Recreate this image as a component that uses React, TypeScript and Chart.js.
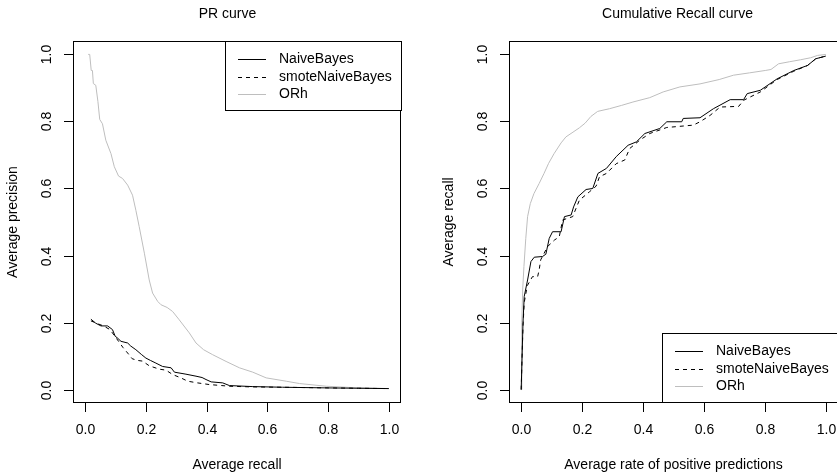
import React, { useEffect, useRef } from "react";
import { Chart, registerables } from "chart.js";

Chart.register(...registerables);

// ---------- data ----------
const TICK_VALUES = [0, 0.2, 0.4, 0.6, 0.8, 1.0];
const TICK_LABELS = ["0.0", "0.2", "0.4", "0.6", "0.8", "1.0"];
const SERIES_NAMES = ["NaiveBayes", "smoteNaiveBayes", "ORh"];

const PR_TITLE = "PR curve";
const PR_X_TITLE = "Average recall";
const PR_Y_TITLE = "Average precision";

const CR_TITLE = "Cumulative Recall curve";
const CR_X_TITLE = "Average rate of positive predictions";
const CR_Y_TITLE = "Average recall";

// PR curve
const PR_NB_RECALL = [0.019, 0.035, 0.052, 0.074, 0.09, 0.099, 0.105, 0.118, 0.14, 0.15, 0.167, 0.185, 0.2, 0.215, 0.233, 0.255, 0.283, 0.294, 0.332, 0.365, 0.385, 0.398, 0.415, 0.453, 0.475, 0.55, 0.65, 0.8, 0.9, 1.0];
const PR_NB_PRECISION = [0.21, 0.198, 0.19, 0.19, 0.179, 0.159, 0.155, 0.144, 0.139, 0.13, 0.119, 0.105, 0.094, 0.087, 0.079, 0.069, 0.065, 0.052, 0.046, 0.04, 0.036, 0.03, 0.023, 0.02, 0.012, 0.009, 0.007, 0.005, 0.004, 0.003];

const PR_SMOTE_RECALL = [0.019, 0.04, 0.06, 0.08, 0.09, 0.11, 0.125, 0.14, 0.155, 0.173, 0.189, 0.211, 0.244, 0.266, 0.288, 0.315, 0.338, 0.37, 0.409, 0.45, 0.475, 0.55, 0.65, 0.8, 0.9, 1.0];
const PR_SMOTE_PRECISION = [0.205, 0.197, 0.19, 0.18, 0.169, 0.144, 0.125, 0.109, 0.092, 0.087, 0.085, 0.071, 0.061, 0.058, 0.045, 0.035, 0.025, 0.02, 0.015, 0.012, 0.01, 0.008, 0.007, 0.005, 0.004, 0.003];

const PR_ORH_RECALL = [0.01, 0.015, 0.02, 0.024, 0.027, 0.035, 0.042, 0.048, 0.057, 0.068, 0.085, 0.096, 0.11, 0.123, 0.14, 0.156, 0.167, 0.178, 0.195, 0.211, 0.222, 0.239, 0.25, 0.27, 0.288, 0.31, 0.343, 0.365, 0.39, 0.42, 0.464, 0.508, 0.552, 0.596, 0.662, 0.706, 0.794, 0.88, 1.0];
const PR_ORH_PRECISION = [1.0, 1.0, 0.952, 0.952, 0.913, 0.908, 0.86, 0.806, 0.793, 0.744, 0.704, 0.665, 0.637, 0.63, 0.61, 0.58, 0.535, 0.486, 0.407, 0.327, 0.288, 0.263, 0.253, 0.245, 0.233, 0.208, 0.169, 0.139, 0.119, 0.104, 0.084, 0.065, 0.052, 0.035, 0.025, 0.018, 0.01, 0.006, 0.003];

// Cumulative recall curve
const CR_NB_RPP = [0, 0.003, 0.006, 0.01, 0.021, 0.032, 0.043, 0.07, 0.081, 0.092, 0.103, 0.131, 0.142, 0.164, 0.172, 0.186, 0.213, 0.235, 0.252, 0.28, 0.312, 0.351, 0.378, 0.406, 0.455, 0.478, 0.527, 0.532, 0.587, 0.631, 0.686, 0.73, 0.742, 0.785, 0.84, 0.895, 0.94, 0.967, 1.0];
const CR_NB_RECALL = [0, 0.1, 0.2, 0.278, 0.327, 0.382, 0.395, 0.397, 0.404, 0.451, 0.471, 0.471, 0.516, 0.521, 0.545, 0.575, 0.597, 0.6, 0.645, 0.66, 0.695, 0.729, 0.739, 0.764, 0.779, 0.799, 0.799, 0.809, 0.811, 0.838, 0.865, 0.865, 0.883, 0.893, 0.927, 0.952, 0.967, 0.987, 0.995];

const CR_SMOTE_RPP = [0, 0.003, 0.006, 0.01, 0.02, 0.037, 0.054, 0.059, 0.064, 0.087, 0.109, 0.125, 0.136, 0.169, 0.191, 0.224, 0.246, 0.257, 0.28, 0.312, 0.34, 0.356, 0.389, 0.422, 0.478, 0.565, 0.587, 0.62, 0.653, 0.714, 0.73, 0.785, 0.84, 0.895, 0.94, 0.967, 1.0];
const CR_SMOTE_RECALL = [0, 0.1, 0.19, 0.26, 0.31, 0.337, 0.337, 0.357, 0.387, 0.427, 0.446, 0.456, 0.506, 0.516, 0.565, 0.59, 0.607, 0.635, 0.645, 0.674, 0.685, 0.719, 0.744, 0.764, 0.782, 0.789, 0.799, 0.818, 0.843, 0.845, 0.863, 0.888, 0.925, 0.95, 0.967, 0.987, 0.995];

const CR_ORH_RPP = [0, 0.002, 0.005, 0.009, 0.015, 0.021, 0.03, 0.042, 0.059, 0.075, 0.09, 0.108, 0.131, 0.147, 0.17, 0.191, 0.21, 0.229, 0.251, 0.29, 0.33, 0.367, 0.422, 0.466, 0.521, 0.587, 0.65, 0.697, 0.75, 0.801, 0.82, 0.845, 0.88, 0.917, 0.95, 0.973, 1.0];
const CR_ORH_RECALL = [0, 0.2, 0.3, 0.367, 0.45, 0.516, 0.555, 0.585, 0.615, 0.645, 0.675, 0.704, 0.736, 0.754, 0.768, 0.781, 0.795, 0.815, 0.83, 0.838, 0.848, 0.858, 0.871, 0.888, 0.903, 0.912, 0.925, 0.938, 0.945, 0.952, 0.955, 0.972, 0.978, 0.984, 0.99, 0.997, 1.0];

// ---------- styling ----------
const FONT = '14px "Liberation Sans", Arial, Helvetica, sans-serif';
const BLACK = "#000000";
const GRAY = "#BEBEBE";
const LINE_STYLES = [
  { color: BLACK, dash: [] as number[] },
  { color: BLACK, dash: [4, 4] },
  { color: GRAY, dash: [] as number[] },
];

function toPoints(xs: number[], ys: number[]) {
  return xs.map((x, i) => ({ x, y: ys[i] }));
}

function buildDatasets(series: { x: number[]; y: number[] }[]) {
  return series.map((s, i) => ({
    label: SERIES_NAMES[i],
    data: toPoints(s.x, s.y),
    borderColor: LINE_STYLES[i].color,
    borderDash: LINE_STYLES[i].dash,
    borderWidth: 1,
    pointRadius: 0,
    tension: 0,
    fill: false,
  }));
}

type PanelCfg = {
  title: string;
  titleX: number;
  xTitle: string;
  yTitle: string;
  legend: "topright" | "bottomright";
};

function rPlotPlugin(cfg: PanelCfg) {
  return {
    id: "rPlot",
    afterDraw(chart: any) {
      const ctx: CanvasRenderingContext2D = chart.ctx;
      const { left, right, top, bottom } = chart.chartArea;
      const xs = chart.scales.x;
      const ys = chart.scales.y;
      ctx.save();
      ctx.strokeStyle = BLACK;
      ctx.fillStyle = BLACK;
      ctx.lineWidth = 1;
      ctx.setLineDash([]);
      // box
      ctx.strokeRect(left + 0.5, top + 0.5, right - left - 1, bottom - top - 1);
      ctx.font = FONT;
      // x axis ticks
      ctx.textAlign = "center";
      ctx.textBaseline = "middle";
      TICK_VALUES.forEach((v, i) => {
        const px = Math.round(xs.getPixelForValue(v)) + 0.5;
        ctx.beginPath();
        ctx.moveTo(px, bottom - 0.5);
        ctx.lineTo(px, bottom + 9);
        ctx.stroke();
        ctx.fillText(TICK_LABELS[i], px, bottom + 27);
      });
      // y axis ticks
      TICK_VALUES.forEach((v, i) => {
        const py = Math.round(ys.getPixelForValue(v)) + 0.5;
        ctx.beginPath();
        ctx.moveTo(left - 9, py);
        ctx.lineTo(left + 0.5, py);
        ctx.stroke();
        ctx.save();
        ctx.translate(left - 26, py);
        ctx.rotate(-Math.PI / 2);
        ctx.fillText(TICK_LABELS[i], 0, 0);
        ctx.restore();
      });
      // axis titles
      ctx.fillText(cfg.xTitle, (left + right) / 2, bottom + 62);
      ctx.save();
      ctx.translate(left - 60, (top + bottom) / 2);
      ctx.rotate(-Math.PI / 2);
      ctx.fillText(cfg.yTitle, 0, 0);
      ctx.restore();
      // main title
      ctx.fillText(cfg.title, cfg.titleX, 14);
      // legend
      const lw = 176;
      const lh = 70;
      const lx = right - lw;
      const ly = cfg.legend === "topright" ? top : bottom - lh;
      ctx.fillStyle = "#ffffff";
      ctx.fillRect(lx + 0.5, ly + 0.5, lw, lh - 1);
      ctx.strokeStyle = BLACK;
      ctx.strokeRect(lx + 0.5, ly + 0.5, lw, lh - 1);
      const rows = [18, 35.5, 53];
      chart.data.datasets.forEach((ds: any, i: number) => {
        const yy = Math.round(ly + rows[i]) + 0.5;
        ctx.strokeStyle = ds.borderColor;
        ctx.setLineDash(ds.borderDash || []);
        ctx.beginPath();
        ctx.moveTo(lx + 13, yy);
        ctx.lineTo(lx + 41, yy);
        ctx.stroke();
        ctx.setLineDash([]);
        ctx.fillStyle = BLACK;
        ctx.textAlign = "left";
        ctx.fillText(ds.label, lx + 54, yy);
      });
      ctx.restore();
    },
  };
}

function makeChart(canvas: HTMLCanvasElement, datasets: any[], cfg: PanelCfg, padding: any) {
  return new Chart(canvas, {
    type: "line",
    data: { datasets },
    options: {
      responsive: false,
      animation: false,
      devicePixelRatio: 1,
      layout: { padding },
      plugins: { legend: { display: false }, tooltip: { enabled: false }, title: { display: false } },
      scales: {
        x: { type: "linear", min: -0.04, max: 1.04, display: false },
        y: { type: "linear", min: -0.04, max: 1.04, display: false },
      },
      elements: { line: { borderJoinStyle: "round" } },
    },
    plugins: [rPlotPlugin(cfg)],
  } as any);
}

export default function App() {
  const leftRef = useRef<HTMLCanvasElement>(null);
  const rightRef = useRef<HTMLCanvasElement>(null);

  useEffect(() => {
    const prData = buildDatasets([
      { x: PR_NB_RECALL, y: PR_NB_PRECISION },
      { x: PR_SMOTE_RECALL, y: PR_SMOTE_PRECISION },
      { x: PR_ORH_RECALL, y: PR_ORH_PRECISION },
    ]);
    const crData = buildDatasets([
      { x: CR_NB_RPP, y: CR_NB_RECALL },
      { x: CR_SMOTE_RPP, y: CR_SMOTE_RECALL },
      { x: CR_ORH_RPP, y: CR_ORH_RECALL },
    ]);
    const c1 = makeChart(
      leftRef.current!,
      prData,
      { title: PR_TITLE, titleX: 227.5, xTitle: PR_X_TITLE, yTitle: PR_Y_TITLE, legend: "topright" },
      { left: 73, right: 17, top: 41, bottom: 73 }
    );
    const c2 = makeChart(
      rightRef.current!,
      crData,
      { title: CR_TITLE, titleX: 259.5, xTitle: CR_X_TITLE, yTitle: CR_Y_TITLE, legend: "bottomright" },
      { left: 91, right: 10, top: 41, bottom: 73 }
    );
    return () => {
      c1.destroy();
      c2.destroy();
    };
  }, []);

  return (
    <div style={{ position: "fixed", left: 0, top: 0, width: 837, height: 476, overflow: "hidden", background: "#fff" }}>
      <canvas ref={leftRef} width={418} height={476} style={{ position: "absolute", left: 0, top: 0, width: 418, height: 476 }} />
      <canvas ref={rightRef} width={430} height={476} style={{ position: "absolute", left: 418, top: 0, width: 430, height: 476 }} />
    </div>
  );
}
